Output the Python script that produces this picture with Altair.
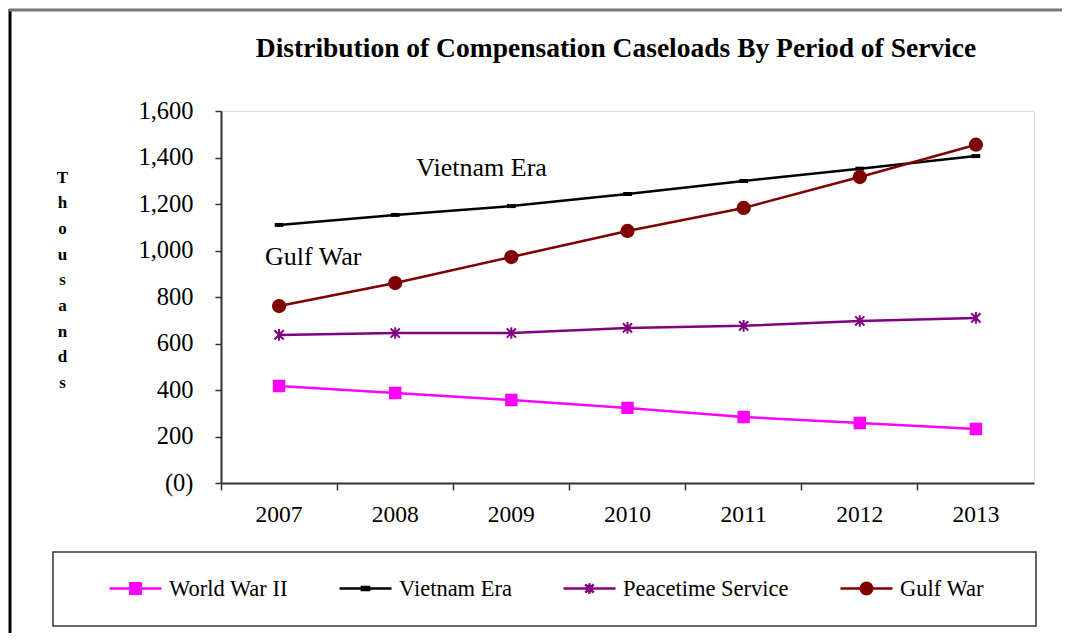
import altair as alt
import pandas as pd

years = [2007, 2008, 2009, 2010, 2011, 2012, 2013]
series_names = ["World War II", "Vietnam Era", "Peacetime Service", "Gulf War"]
ww2 = [417, 387, 357, 323, 284, 258, 232]
vietnam = [1110, 1153, 1191, 1243, 1299, 1352, 1406]
peace = [637, 645, 645, 667, 676, 697, 710]
gulf = [761, 860, 972, 1084, 1183, 1316, 1455]
colors = ["#FF00FF", "#000000", "#800080", "#800000"]
y_ticks = [0, 200, 400, 600, 800, 1000, 1200, 1400, 1600]

title_text = "Distribution of Compensation Caseloads By Period of Service"
ann_labels = ["Vietnam Era", "Gulf War"]
ann_years = [2009, 2007]
ann_values = [1355, 972]
ann_dx = [-95, -14]

FONT = "Liberation Serif"

rows = []
for name, vals in zip(series_names, [ww2, vietnam, peace, gulf]):
    for yr, v in zip(years, vals):
        rows.append({"series": name, "leg": name, "year": yr, "value": v})
df = pd.DataFrame(rows)

plot_shapes = [
    "M-0.85,-0.85H0.85V0.85H-0.85Z",
    "M-0.55,-0.16H0.55V0.16H-0.55Z",
    "M-0.75,-0.75L0.75,0.75M-0.75,0.75L0.75,-0.75M0,-0.95V0.95",
    "circle",
]
leg_shapes = [
    "M-1,0H1M-0.2,-0.2H0.2V0.2H-0.2Z",
    "M-1,0H1M-0.14,-0.06H0.14V0.06H-0.14Z",
    "M-1,0H1M-0.16,-0.16L0.16,0.16M-0.16,0.16L0.16,-0.16M0,-0.2V0.2",
    "M-1,0H1M0.22,0A0.22,0.22 0 1,1 -0.22,0A0.22,0.22 0 1,1 0.22,0Z",
]

x_enc = alt.X(
    "year:O",
    bandPosition=0.5,
    scale=alt.Scale(type="band", paddingInner=0, paddingOuter=0),
    axis=alt.Axis(
        title=None, labelAngle=0, bandPosition=0, labelFont=FONT, labelFontSize=23.5,
        labelColor="black", labelPadding=12, tickSize=7, tickColor="#333",
        tickWidth=1.5, domainColor="#333", domainWidth=2, grid=False,
    ),
)
y_enc = alt.Y(
    "value:Q",
    scale=alt.Scale(domain=[0, 1600], nice=False),
    axis=alt.Axis(
        values=y_ticks, grid=False,
        labelExpr="datum.value == 0 ? '(0)' : format(datum.value, ',')",
        labelFont=FONT, labelFontSize=24.5, labelColor="black", labelPadding=22,
        tickSize=6, tickColor="#333", tickWidth=1.5, domainColor="#333", domainWidth=2,
        title=list("Thousands"), titleAngle=0, titleX=-159, titleY=58,
        titleAlign="center", titleBaseline="top", titleFont=FONT,
        titleFontWeight="bold", titleFontSize=17, titleLineHeight=25.7,
        titleColor="black",
    ),
)
color_scale = alt.Scale(domain=series_names, range=colors)

lines = alt.Chart(df).mark_line(strokeWidth=2.5).encode(
    x=x_enc, y=y_enc,
    color=alt.Color("series:N", scale=color_scale, legend=None),
    detail="series:N",
)

points = alt.Chart(df).mark_point(filled=True, size=150, strokeWidth=2, opacity=1).encode(
    x=x_enc, y=y_enc,
    fill=alt.Fill("series:N", scale=color_scale, legend=None),
    stroke=alt.Stroke("series:N", scale=color_scale, legend=None),
    shape=alt.Shape("series:N", scale=alt.Scale(domain=series_names, range=plot_shapes), legend=None),
)

leg_def = alt.Legend(
    title=None, orient="none", legendX=-113, legendY=450,
    direction="horizontal", symbolSize=2704, symbolStrokeWidth=2.5,
    symbolOpacity=1, labelFont=FONT, labelFontSize=22.5, labelColor="black",
    labelLimit=500, columnPadding=46, padding=0, labelOffset=6,
)
legend_layer = alt.Chart(df).mark_point(filled=True, size=10, opacity=0).encode(
    x=x_enc, y=y_enc,
    fill=alt.Fill("leg:N", scale=color_scale, legend=leg_def),
    stroke=alt.Stroke("leg:N", scale=color_scale, legend=leg_def),
    shape=alt.Shape("leg:N", scale=alt.Scale(domain=series_names, range=leg_shapes), legend=leg_def),
)

ann_layers = []
for lab, yr, val, dx in zip(ann_labels, ann_years, ann_values, ann_dx):
    adf = pd.DataFrame({"label": [lab], "year": [yr], "value": [val]})
    ann_layers.append(
        alt.Chart(adf).mark_text(
            font=FONT, fontSize=26, align="left", baseline="middle", color="black", dx=dx
        ).encode(x=alt.X("year:O", bandPosition=0.5), y="value:Q", text="label:N")
    )

one = pd.DataFrame({"t": [title_text]})
title = alt.Chart(one).mark_text(
    font=FONT, fontSize=27.5, fontWeight="bold", align="center", baseline="alphabetic", color="black"
).encode(text="t:N", x=alt.value(395), y=alt.value(-54))

legend_box = alt.Chart(one).mark_rect(fill="white", stroke="#333", strokeWidth=1.5).encode(
    x=alt.value(-168), x2=alt.value(815), y=alt.value(441), y2=alt.value(515)
)
frame_left = alt.Chart(one).mark_rule(color="black", strokeWidth=3).encode(
    x=alt.value(-211), y=alt.value(-102), y2=alt.value(525)
)
frame_top = alt.Chart(one).mark_rule(color="#777", strokeWidth=3).encode(
    x=alt.value(-212), x2=alt.value(845), y=alt.value(-101)
)

chart = alt.layer(
    frame_left, frame_top, legend_box, title, lines, points, legend_layer, *ann_layers
).resolve_scale(
    fill="independent", stroke="independent", shape="independent", color="independent"
).properties(
    width=813, height=372, autosize="none",
    padding={"left": 213, "top": 103, "right": 28, "bottom": 150},
).configure_view(stroke="#888", strokeWidth=2).configure(background="white")

chart.save("out.html", embed_options={"renderer": "svg", "actions": False})
